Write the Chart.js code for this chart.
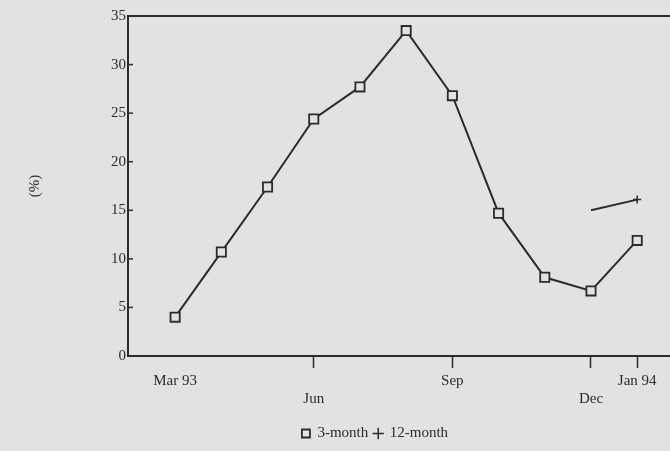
<!DOCTYPE html>
<html>
<head>
<meta charset="utf-8">
<script src="https://cdn.jsdelivr.net/npm/chart.js@4"></script>
<style>
  html, body { margin: 0; padding: 0; background: #e1e3e0; }
  #wrap { width: 670px; height: 451px; }
</style>
</head>
<body>
<div id="wrap"><canvas id="rateChart"></canvas></div>
<script>
// months from Mar 93 to Jan 94, index 0..10
const monthIdx = [0, 1, 2, 3, 4, 5, 6, 7, 8, 9, 10];
const threeMonth = [4.0, 10.7, 17.4, 24.4, 27.7, 33.5, 26.8, 14.7, 8.1, 6.7, 11.9];
const twelveMonthIdx = [9, 10];
const twelveMonth = [15.0, 16.1];
const tickIdx = [0, 3, 6, 9, 10];
const tickLabels = [['Mar 93'], ['', 'Jun'], ['Sep'], ['', 'Dec'], ['Jan 94']];
const yTicks = [0, 5, 10, 15, 20, 25, 30, 35];

const ink = '#2b2b2b';
const paper = '#e1e3e0';
const serif = '"Liberation Serif", "DejaVu Serif", serif';

// top frame line + inward y tick marks, legend nudged toward plot centre
const framePlugin = {
    id: 'frame',
    afterLayout(chart) {
        if (chart.legend) {
            chart.legend.left += 40;
            chart.legend.right += 40;
        }
    },
    afterDraw(chart) {
        const { ctx, chartArea } = chart;
        const y = chart.scales.y;
        ctx.save();
        ctx.strokeStyle = ink;
        ctx.lineWidth = 2;
        ctx.beginPath();
        ctx.moveTo(chartArea.left, chartArea.top);
        ctx.lineTo(chartArea.right, chartArea.top);
        ctx.stroke();
        ctx.lineWidth = 1.5;
        yTicks.forEach(v => {
            if (v === 0 || v === 35) return;
            const py = y.getPixelForValue(v);
            ctx.beginPath();
            ctx.moveTo(chartArea.left, py);
            ctx.lineTo(chartArea.left + 5, py);
            ctx.stroke();
        });
        ctx.restore();
    }
};

const ctx = document.getElementById('rateChart').getContext('2d');
new Chart(ctx, {
    type: 'line',
    data: {
        datasets: [
            {
                label: '3-month',
                data: monthIdx.map((x, i) => ({ x: x, y: threeMonth[i] })),
                borderColor: ink,
                borderWidth: 2,
                pointStyle: 'rect',
                pointRadius: 6.5,
                pointBorderWidth: 1.8,
                pointBorderColor: ink,
                pointBackgroundColor: paper,
                tension: 0
            },
            {
                label: '12-month',
                data: twelveMonthIdx.map((x, i) => ({ x: x, y: twelveMonth[i] })),
                borderColor: ink,
                borderWidth: 2,
                pointStyle: 'cross',
                pointRadius: [0, 4],
                pointBorderWidth: 1.5,
                pointBorderColor: ink,
                tension: 0
            }
        ]
    },
    options: {
        responsive: true,
        maintainAspectRatio: false,
        animation: false,
        layout: { autoPadding: false, padding: { top: 16, right: 0, left: 0, bottom: 0 } },
        plugins: {
            legend: {
                position: 'bottom',
                labels: {
                    color: ink,
                    font: { family: serif, size: 15 },
                    usePointStyle: true,
                    boxWidth: 8,
                    boxHeight: 8,
                    padding: 6
                }
            },
            tooltip: { enabled: false }
        },
        scales: {
            x: {
                type: 'linear',
                min: -1.02,
                max: 10.71,
                afterBuildTicks: axis => { axis.ticks = tickIdx.map(v => ({ value: v })); },
                afterFit: axis => {
                    axis.height = 64;
                    axis.paddingRight = 0;
                    axis.paddingLeft = 0;
                },
                ticks: {
                    color: ink,
                    font: { family: serif, size: 15 },
                    maxRotation: 0,
                    autoSkip: false,
                    padding: 4,
                    callback: v => tickLabels[tickIdx.indexOf(v)]
                },
                grid: {
                    drawOnChartArea: false,
                    tickLength: 12,
                    tickWidth: 1.5,
                    tickColor: c => (c.tick && c.tick.value === 0) ? 'rgba(0,0,0,0)' : ink
                },
                border: { color: ink, width: 2 }
            },
            y: {
                min: 0,
                max: 35,
                afterBuildTicks: axis => { axis.ticks = yTicks.map(v => ({ value: v })); },
                afterFit: axis => { axis.width = 128; },
                ticks: {
                    color: ink,
                    font: { family: serif, size: 15 },
                    padding: 2
                },
                grid: { drawOnChartArea: false, drawTicks: false },
                border: { color: ink, width: 2 },
                title: {
                    display: true,
                    text: '(%)',
                    color: ink,
                    font: { family: serif, size: 15 },
                    padding: { top: 26, bottom: 0 }
                }
            }
        }
    },
    plugins: [framePlugin]
});
</script>
</body>
</html>
